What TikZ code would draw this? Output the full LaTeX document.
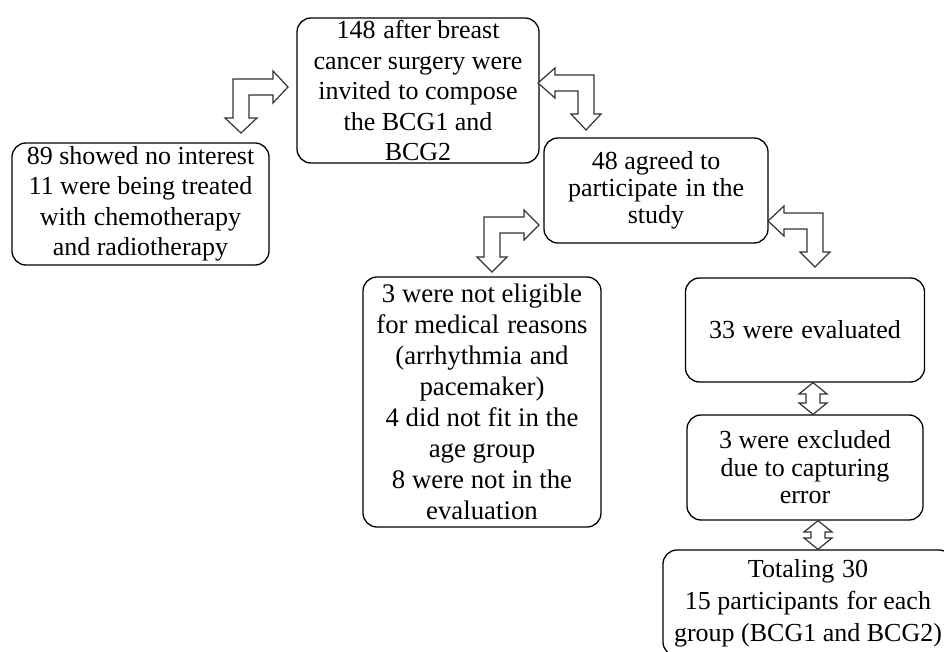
\documentclass[tikz,border=0pt]{standalone}
\usepackage{fontspec}
\setmainfont{Liberation Serif}
\newcommand{\wsp}{\hspace{0.3em}}
\begin{document}
\begin{tikzpicture}[x=1pt,y=-1pt,
  box/.style={draw=black,line width=1.3pt,rounded corners=14pt,inner sep=0pt,align=center,
    font=\fontsize{26}{30.5}\selectfont},
  blockarrow/.style={draw=black!80,line width=1.2pt,fill=white,line join=miter}]
\useasboundingbox (0,0) rectangle (944,652);
\clip (0,0) rectangle (944,652);
\fill[white] (0,0) rectangle (944,652);

% boxes
\node[box,minimum width=242pt,minimum height=145pt] (invited) at (418,90.5)
  {148\wsp after breast\\cancer surgery were\\invited\wsp to compose\\the BCG1 and\\BCG2};
\node[box,minimum width=257pt,minimum height=122pt] (nointerest) at (140.5,204)
  {89 showed no interest\\11 were being treated\\with\wsp chemotherapy\\and radiotherapy};
\node[box,minimum width=224pt,minimum height=105pt,font=\fontsize{26}{27}\selectfont] (agreed) at (656,190.5)
  {48 agreed to\\participate\wsp in the\\study};
\node[box,minimum width=238pt,minimum height=250pt,font=\fontsize{26.8}{31}\selectfont] (noteligible) at (482,402)
  {3 were not eligible\\for medical\wsp reasons\\(arrhythmia\wsp and\\pacemaker)\\4 did not fit in the\\age group\\8 were not in the\\evaluation};
\node[box,minimum width=239pt,minimum height=104pt] (evaluated) at (805,330)
  {33\wsp were\wsp evaluated};
\node[box,minimum width=236pt,minimum height=105pt,font=\fontsize{26}{27.5}\selectfont] (excluded) at (805,467.5)
  {3 were\wsp excluded\\due to capturing\\error};
\node[box,minimum width=290pt,minimum height=106pt,font=\fontsize{26}{32}\selectfont] (total) at (808,603)
  {Totaling\wsp 30\\15 participants\wsp for each\\group (BCG1 and BCG2)};

% bent block arrows
\draw[blockarrow] (233,79) -- (273,79) -- (273,71) -- (288,87) -- (273,103) -- (273,95)
  -- (249,95) -- (249,118) -- (257,118) -- (241,133) -- (225,118) -- (233,118) -- cycle;
\draw[blockarrow] (594,75) -- (555,75) -- (555,68) -- (538,83) -- (555,98) -- (555,91)
  -- (578,91) -- (578,114) -- (571,114) -- (586,130) -- (601,114) -- (594,114) -- cycle;
\draw[blockarrow] (484,217) -- (524,217) -- (524,210) -- (539,225) -- (524,240) -- (524,233)
  -- (500,233) -- (500,257) -- (507,257) -- (492,272) -- (477,257) -- (484,257) -- cycle;
\draw[blockarrow] (823,213) -- (784,213) -- (784,206) -- (768,221) -- (784,236) -- (784,229)
  -- (807,229) -- (807,252) -- (800,252) -- (815,267) -- (830,252) -- (823,252) -- cycle;

% double block arrows
\draw[blockarrow] (evaluated.south -| 813,0) -- (827,394) -- (820,394) -- (820,403) -- (827,403)
  -- (excluded.north -| 813,0) -- (799,403) -- (806,403) -- (806,394) -- (799,394) -- cycle;
\draw[blockarrow] (excluded.south -| 818,0) -- (832,532) -- (825,532) -- (825,538) -- (832,538)
  -- (total.north -| 818,0) -- (804,538) -- (811,538) -- (811,532) -- (804,532) -- cycle;
\end{tikzpicture}
\end{document}
